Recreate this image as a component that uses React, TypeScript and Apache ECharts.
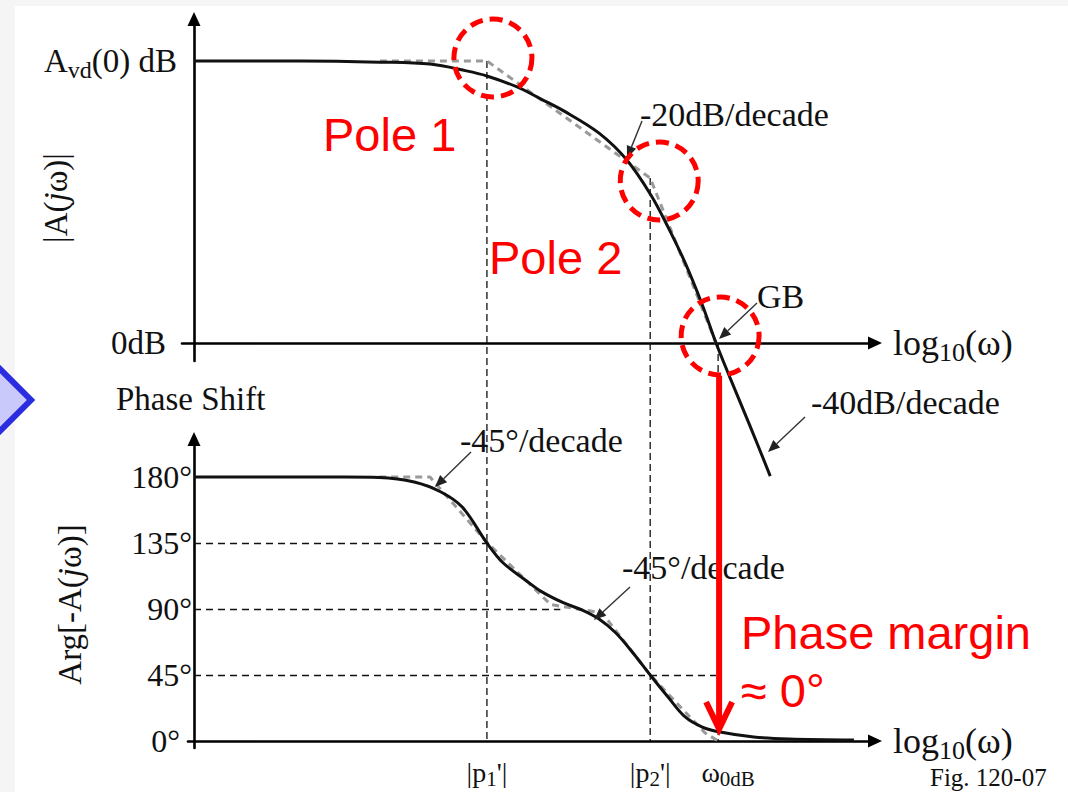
import React, { useEffect, useRef } from 'react';
import * as echarts from 'echarts';

// ---------------- data (x: log10(ω) in decade units from the origin) ----------------
const POLE1 = 4.27; // |p1'|
const POLE2 = 6.65; // |p2'|
const OMEGA_0DB = 7.64; // ω0dB
const AVD_DB = 100; // A_vd(0) dB (schematic level)
const ASYM_AT_POLE2 = 58.5; // asymptote level at |p2'|
const PHASE_AT_0DB = 6.1; // phase at ω0dB (degrees)

// magnitude |A(jω)| (dB)
const magX = [0, 1.55, 2.71, 3.44, 3.97, 4.27, 4.71, 5.06, 5.39, 5.9, 6.31, 6.66, 6.91, 7.16, 7.41, 7.61, 7.81, 8.1, 8.4];
const magDb = [100, 100, 99.6, 98.9, 96.5, 94.7, 90.8, 86.5, 82.3, 74.5, 64.9, 52.5, 41.1, 28.4, 13.5, 0, -12.1, -29.1, -47.2];
const magAsymX = [2.71, 4.27, 6.65, 7.61];
const magAsymDb = [100, 100, 58.5, 0];

// phase Arg[-A(jω)] (degrees)
const phaseX = [0, 2.2, 2.7, 3.21, 3.6, 3.91, 4.27, 4.5, 4.81, 5.06, 5.39, 5.66, 5.9, 6.15, 6.4, 6.65, 6.91, 7.16, 7.41, 7.67, 8.16, 8.67, 9.62];
const phaseDeg = [180, 180, 179.7, 176.6, 169.8, 159.5, 135, 121.7, 110.5, 102, 94.1, 89.3, 83.3, 73.6, 60, 45, 30, 16.4, 9.5, 6.1, 2.7, 1.4, 0.7];
const phaseAsymX = [2.7, 3.44, 4.27, 5.2, 5.95, 6.65, 7.45, 7.64];
const phaseAsymDeg = [180, 180, 135.5, 93, 87.3, 45, 5.5, 0];

// dashed guide lines in the phase plot
const phaseGuideDeg = [135, 90, 45];
const phaseGuideEndX = [4.27, 5.34, 7.61];

// tick labels
const magTickValues = [0, AVD_DB];
const magTickLabels = ['{z|0dB}', 'A{s|vd}(0) dB'];
const phaseTickValues = [0, 45, 90, 135, 180];
const phaseTickLabels = ['{z|0°}', '45°', '90°', '135°', '180°'];
const freqTickValues = [POLE1, POLE2, OMEGA_0DB];
const freqTickLabels = ["|p{s|1}'|", "|p{s|2}'|", '{w|ω}{s|0dB}'];

// annotation texts
const annotationTexts = ['-20dB/decade', 'GB', '-40dB/decade', '-45°/decade', '-45°/decade'];
const redTexts = ['Pole 1', 'Pole 2', 'Phase margin', '≈ 0°'];

// ---------------- layout ----------------
const SERIF = "'Liberation Serif', 'Times New Roman', serif";
const SANS = "'Liberation Sans', Arial, sans-serif";
const INK = '#111';
const RED = '#ff0000';

const ORIGIN_X = 194;
const PX_PER_UNIT = 68.6;
const MAG_ZERO_Y = 343;
const PX_PER_DB = 2.82;
const PHASE_ZERO_Y = 741;
const PX_PER_DEG = 66 / 45;

const G0 = { left: 182, right: 875, top: 19, bottom: 361 };
const G1 = { left: 188, right: 875, top: 439, bottom: 748 };

const xMinOf = (left: number) => (left - ORIGIN_X) / PX_PER_UNIT;
const X_MAX = (875 - ORIGIN_X) / PX_PER_UNIT;

const textLayout = [
  [640, 114],
  [757, 296],
  [811, 402],
  [460, 440],
  [622, 567],
];
const arrowLayout = [
  [[642, 121], [627, 158]],
  [[757, 303], [719, 339]],
  [[805, 417], [768, 452]],
  [[471, 452], [435, 487]],
  [[630, 587], [594, 620]],
];
const redLayout = [
  [323, 134],
  [489, 257],
  [741, 632],
  [741, 690],
];

const pick = (values: number[], labels: string[]) => (v: number) => {
  const i = values.findIndex((t) => Math.abs(t - v) < 1e-6);
  return i >= 0 ? labels[i] : '';
};

function annotationArrow(tail: number[], tip: number[]) {
  const dx = tip[0] - tail[0];
  const dy = tip[1] - tail[1];
  const L = Math.hypot(dx, dy);
  const ux = dx / L;
  const uy = dy / L;
  const len = 12;
  const hw = 5;
  const bx = tip[0] - ux * len;
  const by = tip[1] - uy * len;
  return [
    { type: 'line', z: 60, shape: { x1: tail[0], y1: tail[1], x2: bx, y2: by }, style: { stroke: '#333', lineWidth: 1.4 } },
    {
      type: 'polygon',
      z: 60,
      shape: { points: [tip, [bx - uy * hw, by + ux * hw], [bx + uy * hw, by - ux * hw]] },
      style: { fill: '#222' },
    },
  ];
}

function txt(x: number, y: number, text: string, font: string, fill: string) {
  return {
    type: 'text',
    x,
    y,
    z: 70,
    style: { text, font, fill, align: 'left', verticalAlign: 'middle', textAlign: 'left', textVerticalAlign: 'middle' },
  };
}

const axisLineStyle = { color: '#000', width: 2.6 };

export default function App() {
  const ref = useRef<HTMLDivElement>(null);

  useEffect(() => {
    document.body.style.margin = '0';
    const el = ref.current;
    if (!el) return;
    const chart = echarts.init(el, undefined, { renderer: 'svg' });

    const subRich = (size: number, pad: number) => ({ fontSize: size, fontFamily: SERIF, color: INK, padding: [pad, 0, 0, 0] });

    const option: any = {
      animation: false,
      backgroundColor: '#f5f5f5',
      textStyle: { fontFamily: SERIF, color: INK },
      grid: [
        { left: G0.left, right: 1068 - G0.right, top: G0.top, bottom: 792 - G0.bottom, containLabel: false, outerBoundsMode: 'none' },
        { left: G1.left, right: 1068 - G1.right, top: G1.top, bottom: 792 - G1.bottom, containLabel: false, outerBoundsMode: 'none' },
      ],
      xAxis: [
        {
          type: 'value',
          gridIndex: 0,
          min: xMinOf(G0.left),
          max: X_MAX,
          axisLine: { onZero: true, symbol: ['none', 'triangle'], symbolSize: [13, 14], lineStyle: axisLineStyle },
          axisTick: { show: false },
          axisLabel: { show: false },
          splitLine: { show: false },
          name: 'log{s|10}(ω)',
          nameLocation: 'end',
          nameGap: 18,
          nameMoveOverlap: false,
          nameTextStyle: { fontFamily: SERIF, fontSize: 36, color: INK, rich: { s: subRich(26, 18) } },
        },
        {
          type: 'value',
          gridIndex: 1,
          min: xMinOf(G1.left),
          max: X_MAX,
          axisLine: { onZero: true, symbol: ['none', 'triangle'], symbolSize: [13, 14], lineStyle: axisLineStyle },
          axisTick: { show: false },
          splitLine: { show: false },
          axisLabel: {
            customValues: freqTickValues,
            formatter: pick(freqTickValues, freqTickLabels),
            margin: 8,
            fontFamily: SERIF,
            fontSize: 28,
            color: INK,
            rich: { s: subRich(21, 12), w: { fontSize: 28, fontFamily: SERIF, color: INK, padding: [0, 0, 0, 20] } },
          },
          name: 'log{s|10}(ω)',
          nameLocation: 'end',
          nameGap: 18,
          nameMoveOverlap: false,
          nameTextStyle: { fontFamily: SERIF, fontSize: 36, color: INK, rich: { s: subRich(26, 18) } },
        },
      ],
      yAxis: [
        {
          type: 'value',
          gridIndex: 0,
          min: -(G0.bottom - MAG_ZERO_Y) / PX_PER_DB,
          max: (MAG_ZERO_Y - G0.top) / PX_PER_DB,
          axisLine: { onZero: true, symbol: ['none', 'triangle'], symbolSize: [13, 14], lineStyle: axisLineStyle },
          axisTick: { show: false },
          splitLine: { show: false },
          axisLabel: {
            customValues: magTickValues,
            formatter: pick(magTickValues, magTickLabels),
            margin: 5,
            fontFamily: SERIF,
            fontSize: 33,
            color: INK,
            rich: { s: subRich(24, 17), z: { fontSize: 33, fontFamily: SERIF, color: INK, padding: [0, 11, 0, 0] } },
          },
          name: '|A({i|j}ω)|',
          nameLocation: 'middle',
          nameRotate: 90,
          nameGap: 110,
          nameMoveOverlap: false,
          nameTextStyle: {
            fontFamily: SERIF,
            fontSize: 33,
            color: INK,
            padding: [0, 16, 0, 0],
            rich: { i: { fontStyle: 'italic', fontFamily: SERIF, fontSize: 33, color: INK } },
          },
        },
        {
          type: 'value',
          gridIndex: 1,
          min: -(G1.bottom - PHASE_ZERO_Y) / PX_PER_DEG,
          max: (PHASE_ZERO_Y - G1.top) / PX_PER_DEG,
          axisLine: { onZero: true, symbol: ['none', 'triangle'], symbolSize: [13, 14], lineStyle: axisLineStyle },
          axisTick: { show: false },
          splitLine: { show: false },
          axisLabel: {
            customValues: phaseTickValues,
            formatter: pick(phaseTickValues, phaseTickLabels),
            margin: -4,
            fontFamily: SERIF,
            fontSize: 32,
            color: INK,
            rich: { z: { fontSize: 32, fontFamily: SERIF, color: INK, padding: [0, 12, 0, 0] } },
          },
          name: 'Arg[-A({i|j}ω)]',
          nameLocation: 'middle',
          nameRotate: 90,
          nameGap: 102,
          nameMoveOverlap: false,
          nameTextStyle: {
            fontFamily: SERIF,
            fontSize: 33,
            color: INK,
            padding: [0, 22, 0, 0],
            rich: { i: { fontStyle: 'italic', fontFamily: SERIF, fontSize: 33, color: INK } },
          },
        },
      ],
      series: [
        {
          type: 'line',
          xAxisIndex: 0,
          yAxisIndex: 0,
          data: magAsymX.map((x, i) => [x, magAsymDb[i]]),
          symbol: 'none',
          lineStyle: { color: '#9a9a9a', width: 3, type: [7, 5] },
          silent: true,
          z: 3,
        },
        {
          type: 'line',
          xAxisIndex: 0,
          yAxisIndex: 0,
          data: magX.map((x, i) => [x, magDb[i]]),
          symbol: 'none',
          smooth: 0.35,
          clip: false,
          lineStyle: { color: INK, width: 3 },
          silent: true,
          z: 4,
        },
        {
          type: 'line',
          xAxisIndex: 1,
          yAxisIndex: 1,
          data: phaseAsymX.map((x, i) => [x, phaseAsymDeg[i]]),
          symbol: 'none',
          lineStyle: { color: '#9a9a9a', width: 3, type: [7, 5] },
          silent: true,
          z: 3,
          markLine: {
            silent: true,
            symbol: ['none', 'none'],
            label: { show: false },
            lineStyle: { type: [7, 5], color: INK, width: 1.3 },
            data: phaseGuideDeg.map((d, i) => [{ coord: [0, d] }, { coord: [phaseGuideEndX[i], d] }]),
          },
        },
        {
          type: 'line',
          xAxisIndex: 1,
          yAxisIndex: 1,
          data: phaseX.map((x, i) => [x, phaseDeg[i]]),
          symbol: 'none',
          smooth: 0.35,
          lineStyle: { color: INK, width: 3 },
          silent: true,
          z: 4,
        },
      ],
    };

    chart.setOption(option);

    const p0 = (x: number, y: number) => chart.convertToPixel({ gridIndex: 0 } as any, [x, y]) as number[];
    const p1 = (x: number, y: number) => chart.convertToPixel({ gridIndex: 1 } as any, [x, y]) as number[];

    const dashed = (a: number[], b: number[]) => ({
      type: 'line',
      z: 1,
      shape: { x1: a[0], y1: a[1], x2: b[0], y2: b[1] },
      style: { stroke: INK, lineWidth: 1.3, lineDash: [7, 4] },
    });

    const R = 39;
    const circle = (c: number[], dx: number, dy: number) => ({
      type: 'circle',
      z: 100,
      shape: { cx: c[0] + dx, cy: c[1] + dy, r: R },
      style: { fill: 'none', stroke: RED, lineWidth: 5, lineDash: [13, 7] },
    });

    const cornerP1 = p0(POLE1, AVD_DB);
    const cornerP2 = p0(POLE2, ASYM_AT_POLE2);
    const gb = p0(OMEGA_0DB, 0);
    const gbCircleY = gb[1] - 7;
    const pmTip = p1(OMEGA_0DB, PHASE_AT_0DB);

    const elements: any[] = [
      { type: 'rect', z: -100, shape: { x: 15, y: 6, width: 1060, height: 800 }, style: { fill: '#ffffff' } },
      {
        type: 'polygon',
        z: -90,
        shape: { points: [[-30, 339], [31, 400], [-30, 461]] },
        style: { fill: '#c9c9fb', stroke: '#2b2be0', lineWidth: 6 },
      },
      dashed(cornerP1, p1(POLE1, 0)),
      dashed(cornerP2, p1(POLE2, 0)),
      dashed(gb, p1(OMEGA_0DB, 0)),
      circle(cornerP1, 6, -3),
      circle(cornerP2, 9, 3),
      circle(gb, 2, -7),
      {
        type: 'line',
        z: 100,
        shape: { x1: pmTip[0] + 1, y1: gbCircleY + R + 1, x2: pmTip[0] + 1, y2: pmTip[1] - 4 },
        style: { stroke: RED, lineWidth: 6 },
      },
      {
        type: 'polyline',
        z: 100,
        shape: { points: [[pmTip[0] - 12, pmTip[1] - 30], [pmTip[0] + 1, pmTip[1] - 3], [pmTip[0] + 14, pmTip[1] - 30]] },
        style: { stroke: RED, lineWidth: 6, fill: 'none', lineJoin: 'miter' },
      },
      txt(116, 399, 'Phase Shift', `33px ${SERIF}`, INK),
      txt(930, 777, 'Fig. 120-07', `25px ${SERIF}`, INK),
    ];
    annotationTexts.forEach((s, i) => elements.push(txt(textLayout[i][0], textLayout[i][1], s, `34px ${SERIF}`, INK)));
    arrowLayout.forEach(([a, b]) => elements.push(...annotationArrow(a, b)));
    redTexts.forEach((s, i) => elements.push(txt(redLayout[i][0], redLayout[i][1], s, `47px ${SANS}`, RED)));

    chart.setOption({ graphic: { elements } });

    return () => chart.dispose();
  }, []);

  return <div ref={ref} style={{ width: 1068, height: 792 }} />;
}
